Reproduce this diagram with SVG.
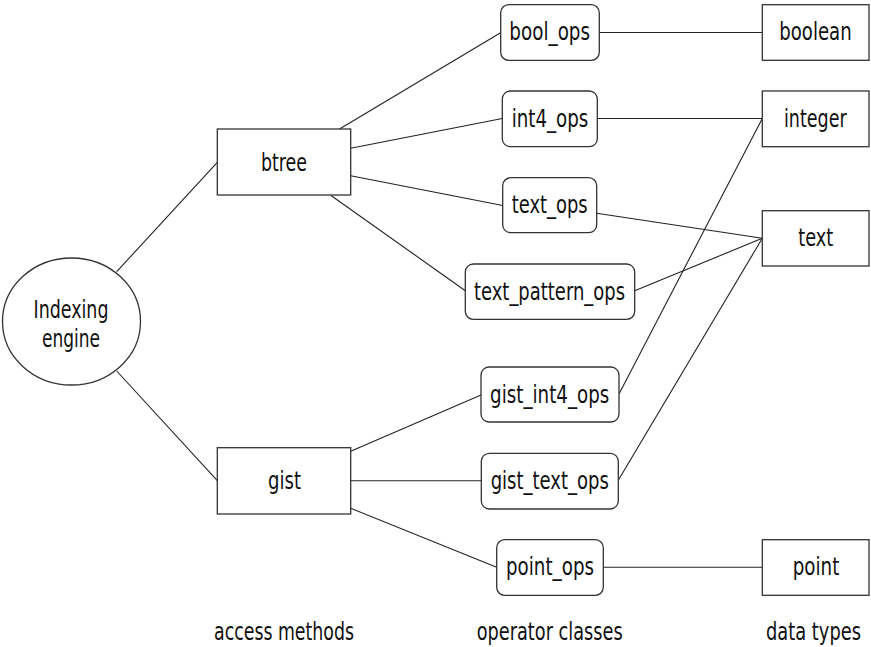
<svg xmlns="http://www.w3.org/2000/svg" width="871" height="647" viewBox="0 0 871 647">
<style>
.n{fill:#fff;stroke:#333;stroke-width:1.3}
.e line{stroke:#222;stroke-width:1.1}
text{font-family:"Liberation Sans Narrow","DejaVu Sans Condensed","Liberation Sans",sans-serif;font-size:25px;fill:#111;text-anchor:middle}
</style>
<rect width="871" height="647" fill="#fff"/>
<g class="e" id="connectors">
<line x1="116.7" y1="271.7" x2="217.3" y2="162.3"/>
<line x1="116.7" y1="371" x2="217.3" y2="480.7"/>
<line x1="339.5" y1="129" x2="501" y2="32.5"/>
<line x1="350.7" y1="148.3" x2="502.3" y2="118.5"/>
<line x1="350.7" y1="175.7" x2="502.7" y2="205.5"/>
<line x1="331" y1="195.5" x2="465.3" y2="290.7"/>
<line x1="599.3" y1="32.5" x2="762.3" y2="32.5"/>
<line x1="597.3" y1="118.5" x2="762.3" y2="118.5"/>
<line x1="596.7" y1="213.3" x2="762.3" y2="238.3"/>
<line x1="634.7" y1="290.7" x2="762.3" y2="238.3"/>
<line x1="619" y1="394" x2="762.3" y2="118.5"/>
<line x1="618.3" y1="480.3" x2="762.3" y2="238.3"/>
<line x1="350.7" y1="451.3" x2="481" y2="395"/>
<line x1="350.7" y1="480.7" x2="481.3" y2="480.7"/>
<line x1="350.7" y1="508.3" x2="496.7" y2="567.3"/>
<line x1="603.3" y1="567.3" x2="762.3" y2="567.3"/>
</g>
<g id="engine"><ellipse class="n" cx="71.5" cy="321.5" rx="69" ry="63.5"/><text x="71" y="318.3" textLength="75" lengthAdjust="spacingAndGlyphs">Indexing</text><text x="71" y="347" textLength="58" lengthAdjust="spacingAndGlyphs">engine</text></g>
<g id="btree"><rect class="n" x="217.3" y="129" width="133.4" height="66"/><text x="284" y="170.5" textLength="46" lengthAdjust="spacingAndGlyphs">btree</text></g>
<g id="gist"><rect class="n" x="217.3" y="447.7" width="133.4" height="66.3"/><text x="284.5" y="489" textLength="33" lengthAdjust="spacingAndGlyphs">gist</text></g>
<g id="bool_ops"><rect class="n" x="500.7" y="4.7" width="98.6" height="55.6" rx="8"/><text x="549.7" y="40.3" textLength="80.7" lengthAdjust="spacingAndGlyphs">bool_ops</text></g>
<g id="int4_ops"><rect class="n" x="502.3" y="91" width="95" height="55.7" rx="8"/><text x="550" y="126.7" textLength="76.7" lengthAdjust="spacingAndGlyphs">int4_ops</text></g>
<g id="text_ops"><rect class="n" x="502.7" y="177.7" width="94" height="55" rx="8"/><text x="549.7" y="213.3" textLength="76" lengthAdjust="spacingAndGlyphs">text_ops</text></g>
<g id="text_pattern_ops"><rect class="n" x="465.3" y="264" width="169.4" height="55.3" rx="8"/><text x="549.5" y="299.5" textLength="151" lengthAdjust="spacingAndGlyphs">text_pattern_ops</text></g>
<g id="gist_int4_ops"><rect class="n" x="481" y="367" width="138" height="55" rx="8"/><text x="549.7" y="402.5" textLength="119.3" lengthAdjust="spacingAndGlyphs">gist_int4_ops</text></g>
<g id="gist_text_ops"><rect class="n" x="481.3" y="453.3" width="137" height="55.7" rx="8"/><text x="549.8" y="489" textLength="118.3" lengthAdjust="spacingAndGlyphs">gist_text_ops</text></g>
<g id="point_ops"><rect class="n" x="496.7" y="539.7" width="106.6" height="55.6" rx="8"/><text x="550" y="575.3" textLength="88" lengthAdjust="spacingAndGlyphs">point_ops</text></g>
<g id="boolean"><rect class="n" x="762.3" y="4.7" width="106.7" height="55.6"/><text x="815.5" y="40.3" textLength="72.4" lengthAdjust="spacingAndGlyphs">boolean</text></g>
<g id="integer"><rect class="n" x="762.3" y="91" width="106.7" height="55.7"/><text x="815.3" y="126.7" textLength="62.7" lengthAdjust="spacingAndGlyphs">integer</text></g>
<g id="text"><rect class="n" x="762.3" y="210.7" width="106.7" height="55.3"/><text x="815.8" y="246" textLength="35" lengthAdjust="spacingAndGlyphs">text</text></g>
<g id="point"><rect class="n" x="762.3" y="539.7" width="106.7" height="55.6"/><text x="816" y="575.3" textLength="46.7" lengthAdjust="spacingAndGlyphs">point</text></g>
<g id="labels">
<text x="284" y="639.5" textLength="140" lengthAdjust="spacingAndGlyphs">access methods</text>
<text x="549.7" y="639.5" textLength="146" lengthAdjust="spacingAndGlyphs">operator classes</text>
<text x="813.5" y="639.5" textLength="95" lengthAdjust="spacingAndGlyphs">data types</text>
</g>
</svg>
